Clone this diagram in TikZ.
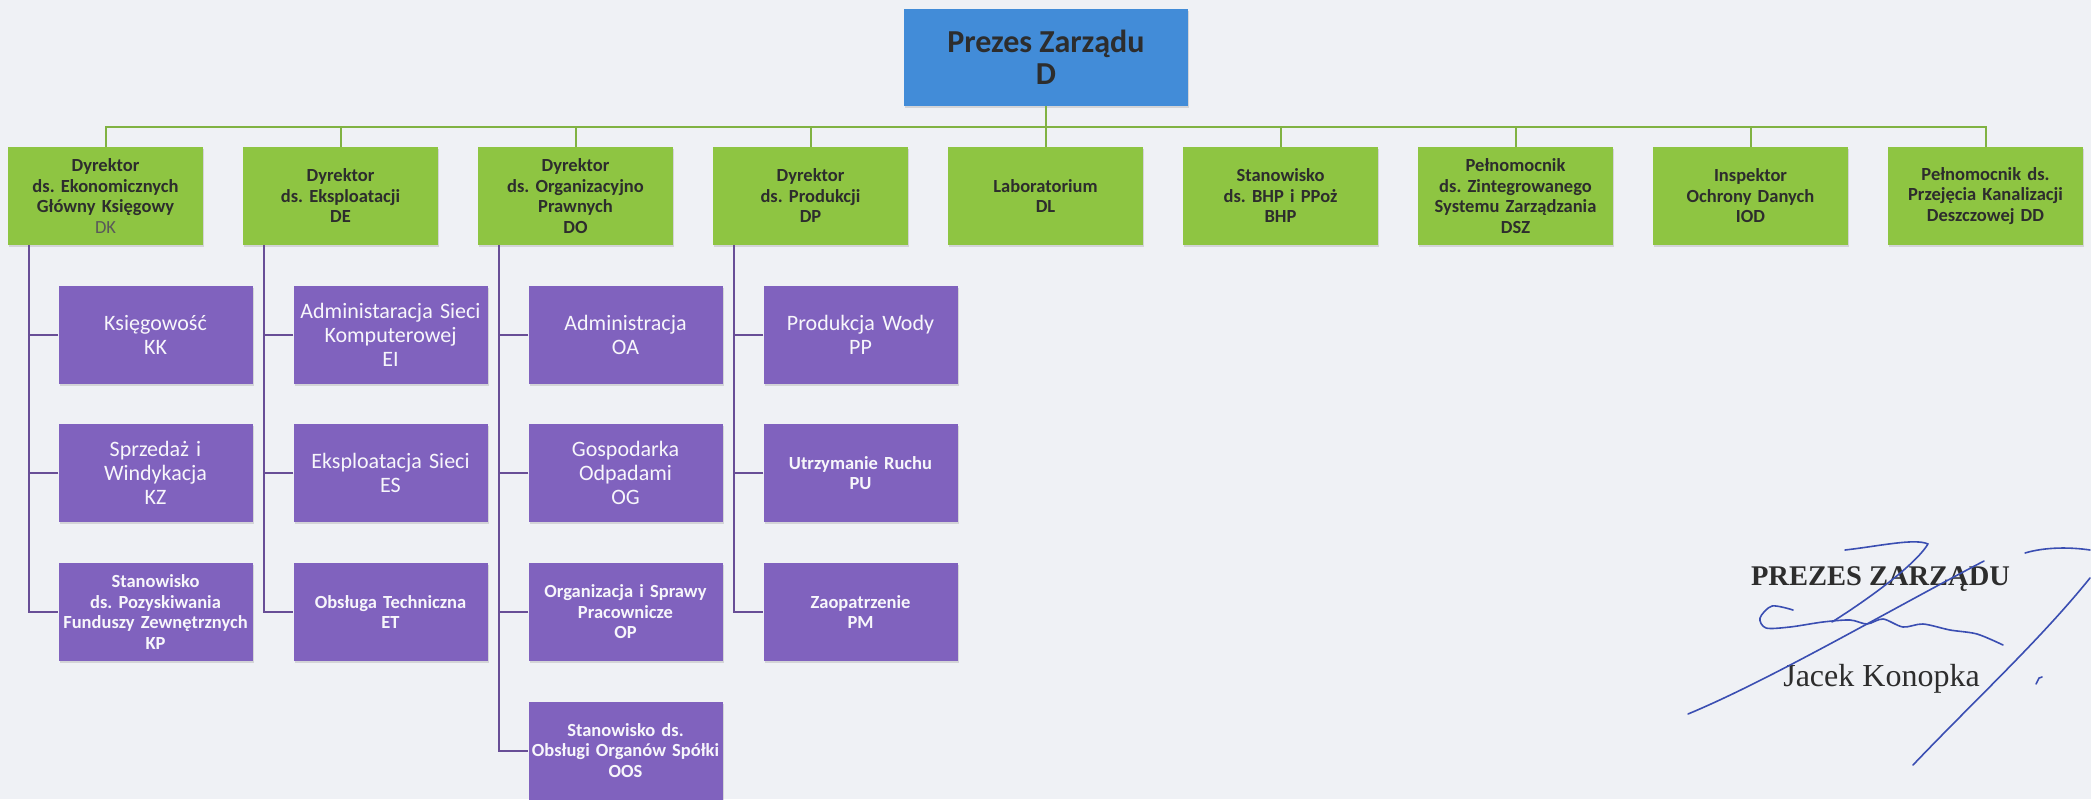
\documentclass[tikz,border=0pt]{standalone}
\usepackage{fontspec}
\setmainfont{Carlito}
\newfontfamily\sigfont{Liberation Serif}
\usetikzlibrary{shadows}
\frenchspacing
\definecolor{paper}{RGB}{239,241,245}
\definecolor{boardblue}{RGB}{66,140,216}
\definecolor{dirgreen}{RGB}{142,197,66}
\definecolor{unitpurple}{RGB}{128,98,190}
\definecolor{linkgreen}{RGB}{128,178,66}
\definecolor{linkpurple}{RGB}{104,78,150}
\definecolor{inkblue}{RGB}{58,78,178}
\definecolor{textdark}{RGB}{45,45,45}
\tikzset{
  box/.style={rectangle, inner sep=2pt, align=center, minimum height=98pt,
    drop shadow={shadow xshift=1pt, shadow yshift=-2pt, opacity=.25}},
  board/.style={box, fill=boardblue, minimum width=284pt, minimum height=97pt,
    text=textdark, font=\bfseries\fontsize{32pt}{32pt}\selectfont},
  dir/.style={box, fill=dirgreen, minimum width=195pt, text width=191pt,
    text=textdark, font=\bfseries\fontsize{18.5pt}{20.5pt}\selectfont},
  unit/.style={box, fill=unitpurple, minimum width=194pt, text width=190pt,
    text=white!94!unitpurple, font=\fontsize{22pt}{24pt}\selectfont},
  unitsm/.style={unit, font=\bfseries\fontsize{18.5pt}{20.5pt}\selectfont},
  gline/.style={draw=linkgreen, line width=2pt},
  pline/.style={draw=linkpurple, line width=2pt},
  sign/.style={draw=inkblue, line width=1.6pt, line cap=round, line join=round}
}
\begin{document}
\begin{tikzpicture}[x=1pt,y=-1pt]
  \fill[paper] (0,0) rectangle (2091,799);
  \node[board] (D) at (1046,57.5) {Prezes Zarządu\\D};
  \node[dir] (DK) at (105.5,196) {Dyrektor\\ds. Ekonomicznych\\Główny Księgowy\\{\mdseries\color{gray!70!black}DK}};
  \node[dir] (DE) at (340.5,196) {Dyrektor\\ds. Eksploatacji\\DE};
  \node[dir] (DO) at (575.5,196) {Dyrektor\\ds. Organizacyjno\\Prawnych\\DO};
  \node[dir] (DP) at (810.5,196) {Dyrektor\\ds. Produkcji\\DP};
  \node[dir] (DL) at (1045.5,196) {Laboratorium\\DL};
  \node[dir] (BHP) at (1280.5,196) {Stanowisko\\ds. BHP i PPoż\\BHP};
  \node[dir] (DSZ) at (1515.5,196) {Pełnomocnik\\ds. Zintegrowanego\\Systemu Zarządzania\\DSZ};
  \node[dir] (IOD) at (1750.5,196) {Inspektor\\Ochrony Danych\\IOD};
  \node[dir] (DD) at (1985.5,196) {Pełnomocnik ds.\\Przejęcia Kanalizacji\\Deszczowej DD};

  \node[unit] (KK) at (155.5,334.5) {Księgowość\\KK};
  \node[unit] (KZ) at (155.5,473) {Sprzedaż i\\Windykacja\\KZ};
  \node[unitsm] (KP) at (155.5,612) {Stanowisko\\ds. Pozyskiwania\\Funduszy Zewnętrznych\\KP};
  \node[unit] (EI) at (390.5,334.5) {Administaracja Sieci\\Komputerowej\\EI};
  \node[unit] (ES) at (390.5,473) {Eksploatacja Sieci\\ES};
  \node[unitsm] (ET) at (390.5,612) {Obsługa Techniczna\\ET};
  \node[unit] (OA) at (625.5,334.5) {Administracja\\OA};
  \node[unit] (OG) at (625.5,473) {Gospodarka\\Odpadami\\OG};
  \node[unitsm] (OP) at (625.5,612) {Organizacja i Sprawy\\Pracownicze\\OP};
  \node[unitsm] (OOS) at (625.5,750.5) {Stanowisko ds.\\Obsługi Organów Spółki\\OOS};
  \node[unit] (PP) at (860.5,334.5) {Produkcja Wody\\PP};
  \node[unitsm] (PU) at (860.5,473) {Utrzymanie Ruchu\\PU};
  \node[unitsm] (PM) at (860.5,612) {Zaopatrzenie\\PM};

  \coordinate (bus) at (0,127);
  \draw[gline] (DK.north) |- (bus -| DD.north) -- (DD.north);
  \draw[gline] (D.south) -- (D.south |- bus);
  \foreach \n in {DE,DO,DP,DL,BHP,DSZ,IOD}
    \draw[gline] (\n.north) -- (\n.north |- bus);

  \draw[pline] ([xshift=-76.5pt]DK.south) |- (KP.west);
  \draw[pline] ([xshift=-76.5pt]DE.south) |- (ET.west);
  \draw[pline] ([xshift=-76.5pt]DO.south) |- (OOS.west);
  \draw[pline] ([xshift=-76.5pt]DP.south) |- (PM.west);
  \foreach \n in {KK,KZ,EI,ES,OA,OG,OP,PP,PU}
    \draw[pline] (\n.west) -- ++(-29,0);

  \node[anchor=base, text=textdark, font=\sigfont\bfseries\fontsize{28.5pt}{30pt}\selectfont] (sigtitle) at (1880.5,585) {PREZES ZARZĄDU};
  \node[anchor=base, text=textdark, font=\sigfont\fontsize{32pt}{34pt}\selectfont] (signame) at (1881.5,686) {Jacek Konopka};

  \draw[sign] (1688,714) .. controls (1770,680) and (1890,610) .. (1984,561);
  \draw[sign] (1845,550) .. controls (1880,546) and (1915,538) .. (1928,544) .. controls (1915,565) and (1870,598) .. (1832,622);
  \draw[sign] plot[smooth] coordinates {(1793,610) (1772,606) (1760,618) (1766,628) (1790,627) (1823,622) (1850,620) (1867,624) (1883,619) (1903,627) (1923,624) (1950,630) (1977,634) (2003,645)};
  \draw[sign] (2025,553) .. controls (2045,547) and (2070,547) .. (2090,550);
  \draw[sign] (2090,578) .. controls (2040,640) and (1975,700) .. (1913,765);
  \draw[sign] (2036,684) -- (2039,678) -- (2042,677);
\end{tikzpicture}
\end{document}
